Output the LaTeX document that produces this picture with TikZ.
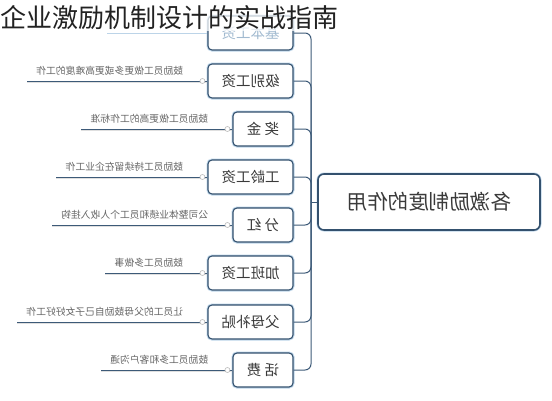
\documentclass[tikz,border=0pt]{standalone}
\usepackage{fontspec}
\usepackage{graphicx}
\newfontfamily\cjk{Noto Sans CJK SC}
\definecolor{edge}{HTML}{34516E}
\definecolor{halo}{HTML}{BCD4E8}
\definecolor{boxtext}{HTML}{3A3A3A}
\definecolor{desctext}{HTML}{666666}
\definecolor{linec}{HTML}{3D5A78}
\definecolor{titlec}{HTML}{222222}
\begin{document}
\begin{tikzpicture}[x=1pt,y=-1pt,
  box/.style={draw=edge, line width=1.1pt, rounded corners=4pt, fill=white,
    minimum height=34pt, inner sep=0pt, font=\cjk\fontsize{14.5}{16}\selectfont,
    text=boxtext, preaction={draw=halo, line width=3pt}},
  wide/.style={box, minimum width=85pt},
  narrow/.style={box, minimum width=60pt},
  desc/.style={font=\cjk\fontsize{9.8}{11}\selectfont, text=desctext, inner sep=0pt, anchor=east},
  link/.style={draw=linec, line width=1pt},
  branch/.style={draw=linec, line width=1pt, rounded corners=6pt},
  knob/.style={circle, draw=gray!55, fill=white, line width=0.6pt, inner sep=0pt, minimum size=5pt}]
\path[use as bounding box] (0,0) rectangle (552,400);

% spine point and central node
\coordinate (sp) at (311,202);
\node[box, minimum width=222pt, minimum height=56pt, rounded corners=6pt, line width=1.6pt,
  font=\cjk\fontsize{20.5}{22}\selectfont] (core) at (429,202) {\reflectbox{各激励制度的作用}};

% category boxes
\node[wide, text=halo!80!edge] (b0) at (250.5,33) {\reflectbox{基本工资}};
\node[wide]   (b1) at (250.5,81)  {\reflectbox{级别工资}};
\node[narrow] (b2) at (263,129)   {\reflectbox{奖\ 金}};
\node[wide]   (b3) at (250.5,177) {\reflectbox{工龄工资}};
\node[narrow] (b4) at (263,225)   {\reflectbox{分\ 红}};
\node[wide]   (b5) at (250.5,273) {\reflectbox{加班工资}};
\node[wide]   (b6) at (250.5,322) {\reflectbox{父母补贴}};
\node[narrow] (b7) at (263,370)   {\reflectbox{话\ 费}};

% branches to spine
\foreach \b in {b0,b1,b2,b3,b4,b5,b6,b7}{
  \draw[branch] (\b.east) -| (sp);
}
\draw[link] (sp) -- (core.west);

% descriptions
\node[desc] (d1) at ([xshift=-24pt,yshift=10pt]b1.west) {\reflectbox{鼓励员工做更多或更高难度的工作}};
\node[desc] (d2) at ([xshift=-24pt,yshift=10pt]b2.west) {\reflectbox{鼓励员工做更高的工作标准}};
\node[desc] (d3) at ([xshift=-24pt,yshift=10pt]b3.west) {\reflectbox{鼓励员工持续留在企业工作}};
\node[desc] (d4) at ([xshift=-24pt,yshift=10pt]b4.west) {\reflectbox{公司整体业绩和员工个人收入挂钩}};
\node[desc] (d5) at ([xshift=-24pt,yshift=10pt]b5.west) {\reflectbox{鼓励员工多做事}};
\node[desc] (d6) at ([xshift=-24pt,yshift=10pt]b6.west) {\reflectbox{让员工的父母鼓励自己子女好好工作}};
\node[desc] (d7) at ([xshift=-24pt,yshift=10pt]b7.west) {\reflectbox{鼓励员工多和客户沟通}};

\coordinate (c0) at (107,33);
\draw[link, draw=halo] (c0) -- (b0.west);
\foreach \i in {1,...,7}{
  \draw[gray!25, line width=1pt] ([xshift=-9pt,yshift=-1.3pt]d\i.west |- b\i.west) -- ([yshift=-1.3pt]b\i.west);
  \draw[link] ([xshift=-9pt]d\i.west |- b\i.west) -- (b\i.west);
  \node[knob] at ([xshift=-5pt]b\i.west) {};
}

% faded top band and title
\fill[white, opacity=0.72] (0,0) rectangle (552,31);
\node[anchor=west, inner sep=0pt, font=\cjk\fontsize{26}{28}\selectfont, text=titlec] (title) at (0,17.5) {企业激励机制设计的实战指南};
\end{tikzpicture}
\end{document}
